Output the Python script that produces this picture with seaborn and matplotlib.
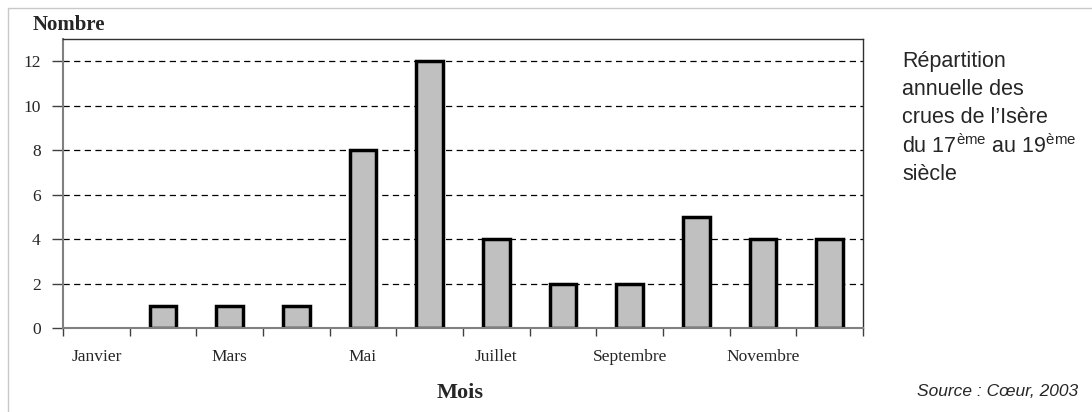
import matplotlib
matplotlib.use("Agg")
import matplotlib.pyplot as plt
import seaborn as sns
import pandas as pd
from matplotlib.lines import Line2D

mois = ["Janvier", "Février", "Mars", "Avril", "Mai", "Juin", "Juillet",
        "Août", "Septembre", "Octobre", "Novembre", "Décembre"]
nombre = [0, 1, 1, 1, 8, 12, 4, 2, 2, 5, 4, 4]
yticks = [0, 2, 4, 6, 8, 10, 12]

df = pd.DataFrame({"mois": mois, "nombre": nombre})

sns.set_style("white")
plt.rcParams["font.family"] = ["Liberation Serif", "DejaVu Serif"]
plt.rcParams["mathtext.fontset"] = "custom"
plt.rcParams["mathtext.rm"] = "Liberation Sans"

fig = plt.figure(figsize=(10.92, 4.12), dpi=100)
ax = fig.add_axes([63 / 1092, 1 - 328 / 412, 800 / 1092, 289 / 412])

sns.barplot(data=df, x="mois", y="nombre", ax=ax, color="#c0c0c0",
            width=0.4, edgecolor="black", linewidth=2.5, saturation=1)
# an empty month shows no outline
for p in ax.patches:
    if p.get_height() == 0:
        p.set_linewidth(0)

ax.set_ylim(0, 13)
ax.set_xlim(-0.5, len(mois) - 0.5)
ax.set_yticks(yticks)
ax.set_yticklabels([str(v) for v in yticks], fontsize=12.5)
for v in yticks[1:]:
    ax.axhline(v, color="black", linestyle=(0, (5, 3.5)), linewidth=0.9, zorder=0)

# ticks on month boundaries, labels every other month
ax.set_xticks([i - 0.5 for i in range(len(mois) + 1)])
ax.set_xticklabels([])
ax.tick_params(axis="x", bottom=True, direction="out", length=6, width=1,
               color="#404040")
ax.tick_params(axis="y", left=True, direction="out", length=8, width=1,
               color="#404040", pad=8)
for i in range(0, len(mois), 2):
    ax.text(i, -1.3, mois[i], ha="center", va="center", fontsize=12.5,
            transform=ax.transData)

for side in ["left", "bottom"]:
    ax.spines[side].set_color("#808080")
    ax.spines[side].set_linewidth(1.5)
for side in ["top", "right"]:
    ax.spines[side].set_color("#303030")
    ax.spines[side].set_linewidth(1)
ax.set_xlabel("")
ax.set_ylabel("")

fig.text(33 / 1092, 1 - 25 / 412, "Nombre", fontsize=15, fontweight="bold",
         va="center", ha="left")
fig.text(460 / 1092, 1 - 393 / 412, "Mois", fontsize=16, fontweight="bold",
         va="center", ha="center")

sans = ["Liberation Sans", "DejaVu Sans"]
lignes = ["Répartition", "annuelle des", "crues de l\u2019Isère",
          "du 17$^{\\mathrm{ème}}$ au 19$^{\\mathrm{ème}}$", "siècle"]
for k, t in enumerate(lignes):
    fig.text(902 / 1092, 1 - (61 + 28.3 * k) / 412, t, fontsize=15.5,
             family=sans, va="center", ha="left")
fig.text(1078 / 1092, 1 - 391 / 412, "Source : Cœur, 2003", fontsize=12.5,
         family=sans, style="italic", va="center", ha="right")

# partial frame around the figure
fig.add_artist(Line2D([8 / 1092, 1], [1 - 8 / 412, 1 - 8 / 412],
                      transform=fig.transFigure, color="#c8c8c8", lw=1))
fig.add_artist(Line2D([8 / 1092, 8 / 1092], [0, 1 - 8 / 412],
                      transform=fig.transFigure, color="#c8c8c8", lw=1))

fig.savefig("out.png", dpi=100)
